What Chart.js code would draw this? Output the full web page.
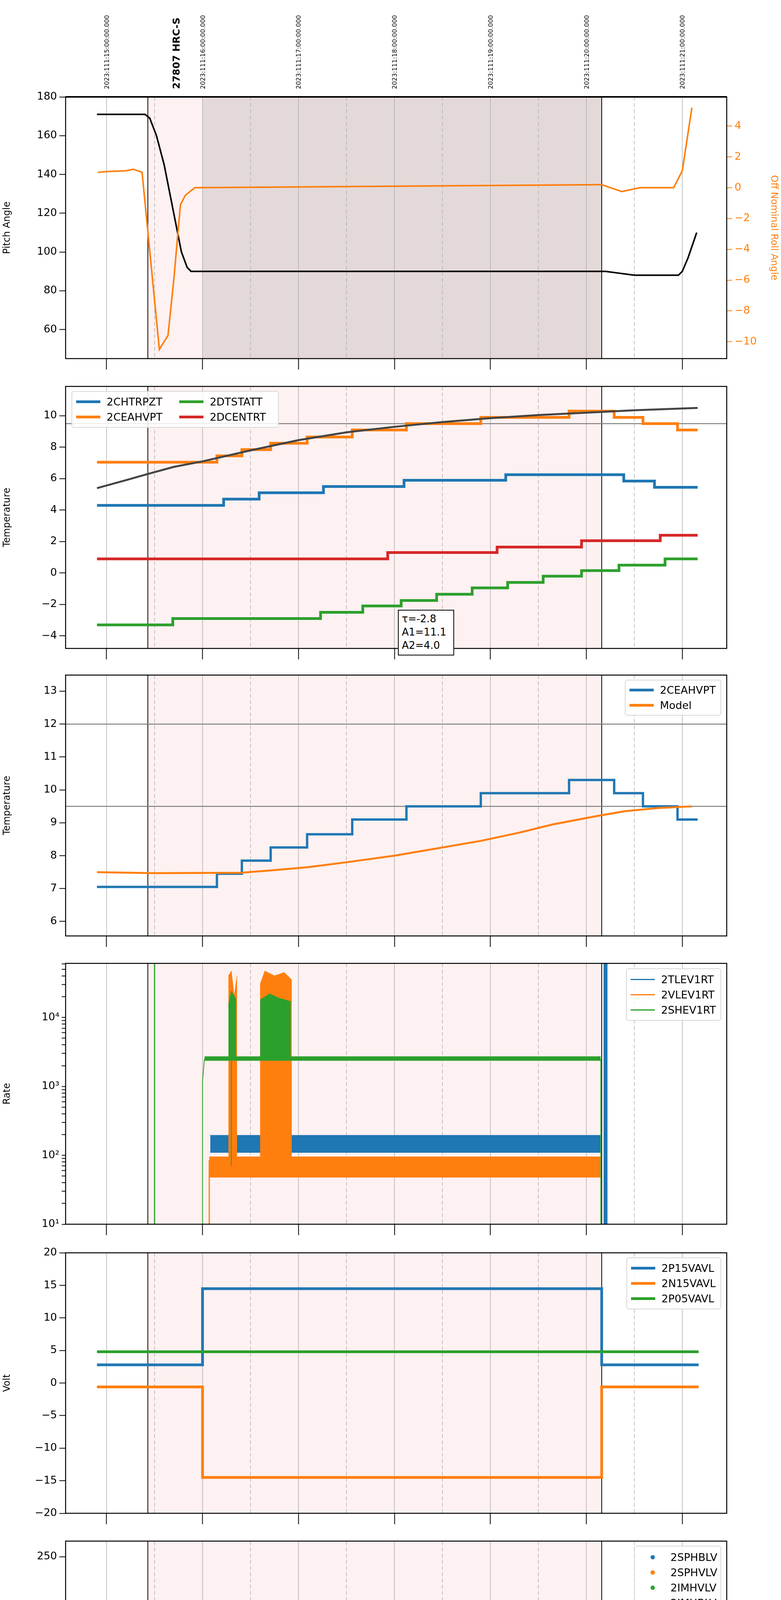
<!DOCTYPE html>
<html>
<head>
<meta charset="utf-8">
<script src="https://cdn.jsdelivr.net/npm/chart.js@4.4.0/dist/chart.umd.min.js"></script>
<style>
  body { margin: 0; background: #fff; font-family: "DejaVu Sans", sans-serif; }
  #page { position: relative; width: 2000px; height: 6200px; }
  .pane { position: absolute; left: 0; }
  .legend { position: absolute; background: rgba(255,255,255,0.85); border: 2px solid #d8d8d8; border-radius: 6px;
            box-sizing: border-box; padding: 8px 10px; display: grid; gap: 8px 22px; font-size: 27px; align-content: center; }
  .legend div { display: flex; align-items: center; white-space: nowrap; }
  .legend i { display: inline-block; width: 62px; margin-right: 16px; }
  .legend b { display: inline-block; width: 11px; height: 11px; border-radius: 50%; margin: 0 40px 0 30px; }
  .note { position: absolute; border: 2px solid #000; background: #fff; font-size: 26px; line-height: 34px; padding: 4px 8px; box-sizing: border-box; }
</style>
</head>
<body>
<div id="page"></div>
<script>
const C = { blue: '#1f77b4', orange: '#ff7f0e', green: '#2ca02c', red: '#d62728' };
const XMIN = 10.573, XMAX = 17.463;
const OBS_START = 11.43, OBS_END = 16.16;
const pts = a => a.map(p => ({ x: p[0], y: p[1] }));

// ---- data ----
const pitch = [[10.9,171],[11.4,171],[11.45,169],[11.52,160],[11.6,145],[11.7,120],[11.78,100],[11.84,92],[11.88,90],
  [16.2,90],[16.35,89],[16.5,88],[16.96,88],[17.0,90],[17.06,97],[17.15,110]];
const roll = [[10.91,1.0],[11.0,1.05],[11.2,1.1],[11.28,1.2],[11.37,1.0],[11.55,-10.5],[11.64,-9.6],[11.7,-6],[11.77,-1.1],
  [11.82,-0.5],[11.92,0.0],[16.16,0.2],[16.37,-0.25],[16.48,-0.1],[16.56,0],[16.91,0],[17.0,1.1],[17.1,5.2]];

// step series: each point is [time the value starts, value]
const ceahvpt = [[10.9,7.05],[12.15,7.45],[12.41,7.85],[12.71,8.25],[13.09,8.65],[13.56,9.1],[14.125,9.5],[14.9,9.9],
  [15.82,10.3],[16.29,9.9],[16.59,9.5],[16.95,9.1],[17.16,9.1]];
const chtrpzt = [[10.9,4.3],[12.22,4.7],[12.59,5.1],[13.26,5.5],[14.1,5.9],[15.16,6.25],[16.39,5.85],[16.71,5.45],[17.16,5.45]];
const dcentrt = [[10.9,0.9],[13.93,1.3],[15.07,1.65],[15.95,2.05],[16.77,2.4],[17.16,2.4]];
const dtstatt = [[10.9,-3.3],[11.69,-2.9],[13.23,-2.5],[13.67,-2.1],[14.07,-1.75],[14.44,-1.35],[14.81,-0.95],[15.18,-0.6],
  [15.55,-0.2],[15.95,0.15],[16.34,0.5],[16.82,0.9],[17.16,0.9]];
const fitCurve = [[10.9,5.4],[11.2,5.9],[11.43,6.3],[11.7,6.75],[12,7.1],[12.5,7.8],[13,8.45],[13.5,8.95],[14,9.3],
  [14.5,9.6],[15,9.85],[15.5,10.05],[16,10.2],[16.5,10.35],[17.16,10.5]];
const model = [[10.9,7.5],[11.5,7.47],[12.4,7.48],[12.7,7.55],[13.1,7.65],[13.5,7.8],[14,8.0],[14.4,8.2],[14.9,8.45],
  [15.3,8.7],[15.65,8.95],[16.1,9.2],[16.4,9.35],[16.75,9.45],[17.1,9.5]];

const p15 = [[10.9,2.8],[12.0,14.5],[16.16,2.8],[17.17,2.8]];
const n15 = [[10.9,-0.6],[12.0,-14.5],[16.16,-0.6],[17.17,-0.6]];
const p05 = [[10.9,4.8],[17.17,4.8]];

const sphblvPts = [[12.02,118],[12.03,103],[12.035,102],[12.04,97],[12.05,91],[12.06,87],[12.07,82],[12.08,78]];
const sphvlvPts = [[12.02,127],[12.025,126],[12.03,96],[12.04,90],[12.045,86],[12.05,85],[12.06,80],[12.07,75],[12.08,71],
  [12.28,127],[12.29,127],[12.30,127],[12.31,127],[12.58,127],[12.64,127],[12.67,127],[12.70,127],[12.73,127],
  [12.76,127],[12.79,127],[12.82,127],[12.85,127]];

const spinatm = [[12.02,3.7],[12.13,4.1],[12.27,0],[12.3,4.1],[12.6,0],[12.63,4.1],[12.65,0],[12.68,4.1],[12.7,0],[12.73,4.1],
  [12.75,0],[12.78,4.1],[12.8,0],[12.83,4.1],[12.85,0],[12.88,4.1],[14.79,4.55],[16.16,4.55]];
const sphvatm = [[12.0,0],[12.0,16.2],[12.05,16.45],[12.08,16.1],[12.12,16.4],[12.2,16.7],[12.27,10.3],[12.3,17.0],[12.37,17.3],
  [12.45,17.6],[12.52,17.9],[12.6,11.1],[12.62,18.1],[12.66,11.1],[12.68,18.1],[12.72,11.1],[12.74,18.2],[12.78,11.1],
  [12.8,18.2],[12.84,11.3],[12.86,18.5],[12.88,11.3],[12.9,18.7],[12.94,19.0],[13.1,19.3],[13.3,19.6],[13.5,19.9],
  [13.75,20.2],[14.1,20.5],[14.5,20.8],[15.1,21.1],[15.8,21.4],[16.16,21.4],[16.16,0]];
const iminatm = [[12.02,1.5],[12.08,1.9],[12.1,1.5],[12.17,1.9],[12.19,1.5],[12.27,4.2],[12.3,1.5],[12.4,1.9],[12.42,1.5],
  [12.52,1.9],[12.55,1.5],[12.6,4.2],[12.63,1.5],[12.66,4.2],[12.69,1.5],[12.72,4.2],[12.75,1.5],[12.78,4.2],[12.81,1.5],
  [12.84,4.2],[12.87,1.85],[15.14,2.35],[16.16,2.35]];
const imhvatm = [[12.0,0],[12.0,15.5],[12.08,15.8],[12.1,15.5],[12.27,17.0],[12.3,15.5],[12.4,15.8],[12.6,18.1],[12.63,15.8],
  [12.66,18.4],[12.7,15.8],[12.73,18.5],[12.77,15.8],[12.8,18.7],[12.85,16.1],[13.13,16.4],[13.5,16.7],[13.93,16.95],
  [14.47,17.2],[15.07,17.5],[15.8,17.8],[16.16,17.8],[16.16,0]];

const fhtrmzt = [[10.9,-6],[12.22,-5.6],[12.4,-5.2],[12.57,-4.8],[12.75,-4.4],[12.89,-4.0],[13.08,-3.6],[13.28,-3.25],
  [13.5,-2.9],[13.67,-2.5],[13.9,-2.1],[14.1,-1.4],[14.11,-1.75],[14.3,-1.35],[14.56,-1.0],[14.8,-0.6],[15.05,-0.25],
  [15.32,0.15],[15.58,0.5],[15.88,0.9],[16.2,1.25],[16.37,0.9],[16.61,0.5],[16.82,0.15],[17.03,-0.25],[17.17,-0.25]];
const fradpyt = [[11.48,-8.5],[11.49,-7.55],[11.64,-7.15],[11.85,-7.55],[11.96,-8.5],[12.37,-7.55],[12.56,-7.15],
  [12.76,-6.75],[12.96,-6.35],[13.18,-5.95],[13.4,-5.6],[13.6,-5.2],[13.85,-4.8],[14.1,-4.4],[14.35,-4.0],[14.6,-3.65],
  [14.93,-3.3],[15.2,-2.9],[15.5,-2.5],[15.8,-2.15],[16.17,-1.75],[16.25,-2.15],[16.48,-2.55],[16.67,-2.9],[16.88,-3.3],
  [17.1,-3.7],[17.17,-3.7]];
const fepratm = [[12.03,-5.1],[12.07,-4.6],[12.12,-4.2],[12.17,-3.8],[12.22,-3.4],[12.27,-4.65],[12.29,-3.0],[12.45,-2.6],
  [12.5,-2.2],[12.6,-4.65],[12.63,-1.8],[12.66,-4.65],[12.69,-1.8],[12.72,-4.65],[12.75,-1.5],[12.78,-4.65],[12.81,-1.4],
  [12.84,-4.65],[12.87,-1.0],[13.1,-0.6],[13.25,-0.2],[13.5,0.25],[13.7,0.65],[13.95,1.05],[14.15,1.5],[14.4,1.95],
  [14.66,2.35],[15.0,2.75],[15.3,3.25],[15.63,3.65],[15.95,4.15],[16.16,4.15]];
const fe00atm = [[12.0,-9],[12.0,-3.8],[12.1,-3.45],[12.25,-3.1],[12.27,5],[12.29,-9],[12.31,5],[12.33,-3.1],[12.38,-2.75],
  [12.5,-2.45],[12.6,5],[12.62,-2.0],[12.64,5],[12.66,-1.9],[12.68,5],[12.7,-2.4],[12.72,5],[12.74,-1.8],[12.76,5],
  [12.78,-1.8],[12.8,5],[12.82,-1.5],[12.85,-1.45],[13.0,-1.1],[13.1,-0.8],[13.25,-0.45],[13.4,-0.15],[13.55,0.15],
  [13.7,-0.2],[13.72,0.5],[13.85,1.8],[13.86,0.8],[14.0,1.1],[14.2,1.45],[14.35,1.75],[14.6,2.05],[14.8,2.35],[15.0,2.65],
  [15.2,2.95],[15.45,3.25],[15.5,2.3],[15.51,3.55],[15.9,3.85],[16.1,4.1],[16.16,-9]];

// rate panel: noisy bands kept as min/max envelopes
const rateSets = [
  { d: [[12.08,110],[16.15,110]], c: C.blue },
  { d: [[12.08,195],[16.15,195]], c: C.blue, fill: '-1' },
  { d: [[16.2,10],[16.2,70000]], c: C.blue, w: 10 },
  { d: [[12.07,10],[12.07,85]], c: C.orange, w: 3 },
  { d: [[12.07,48],[16.15,48]], c: C.orange },
  { d: [[12.07,95],[16.15,95]], c: C.orange, fill: '-1' },
  { d: [[12.27,80],[12.3,80],[12.33,80],[12.36,80]], c: C.orange },
  { d: [[12.27,40000],[12.3,47000],[12.33,20000],[12.36,40000]], c: C.orange, fill: '-1' },
  { d: [[12.6,90],[12.65,90],[12.75,90],[12.85,90],[12.93,90]], c: C.orange },
  { d: [[12.6,30000],[12.65,47000],[12.75,40000],[12.85,45000],[12.93,35000]], c: C.orange, fill: '-1' },
  { d: [[11.5,10],[11.5,70000]], c: C.green, w: 3 },
  { d: [[12.0,10],[12.0,1200],[12.02,2500]], c: C.green, w: 2 },
  { d: [[12.02,2380],[16.15,2380]], c: C.green },
  { d: [[12.02,2700],[16.15,2700]], c: C.green, fill: '-1' },
  { d: [[12.27,2500],[12.3,2500],[12.35,2500]], c: C.green },
  { d: [[12.27,15000],[12.3,24000],[12.35,18000]], c: C.green, fill: '-1' },
  { d: [[12.6,2500],[12.7,2500],[12.8,2500],[12.92,2500]], c: C.green },
  { d: [[12.6,18000],[12.7,22000],[12.8,19000],[12.92,17000]], c: C.green, fill: '-1' },
  { d: [[12.3,2500],[12.3,70]], c: C.green, w: 2 },
  { d: [[16.15,2500],[16.15,10]], c: C.green, w: 2 }
];

// ---- helpers ----
function line(d, color, w, extra) {
  return Object.assign({ data: pts(d), borderColor: color, backgroundColor: color, borderWidth: w,
    pointRadius: 0, fill: false, tension: 0 }, extra || {});
}
const stepLine = (d, color, w) => line(d, color, w, { stepped: 'before' });
const fixTicks = list => scale => { scale.ticks = list.map(v => ({ value: v })); };
const minus = v => String(v).replace('-', '\u2212');

const hourTicks = [];
for (let h = 11; h <= 17; h += 0.5) hourTicks.push(h);

const panels = [
  { top: 248, bottom: 918, ylabel: 'Pitch Angle', ymin: 45, ymax: 180, yticks: [60,80,100,120,140,160,180], dark: true,
    sets: [line(pitch, '#000', 4), line(roll, C.orange, 4, { yAxisID: 'y2' })] },
  { top: 987, bottom: 1660, ylabel: 'Temperature', ymin: -4.8, ymax: 11.87, yticks: [-4,-2,0,2,4,6,8,10], hlines: [9.5],
    sets: [stepLine(chtrpzt, C.blue, 7), stepLine(ceahvpt, C.orange, 7), stepLine(dtstatt, C.green, 7),
           stepLine(dcentrt, C.red, 7), line(fitCurve, '#444', 5)] },
  { top: 1726, bottom: 2396, ylabel: 'Temperature', ymin: 5.56, ymax: 13.49, yticks: [6,7,8,9,10,11,12,13], hlines: [12, 9.5],
    sets: [stepLine(ceahvpt, C.blue, 6), line(model, C.orange, 5)] },
  { top: 2464, bottom: 3134, ylabel: 'Rate', log: true, ymin: 10, ymax: 61000,
    sets: rateSets.map(s => line(s.d, s.c, s.w || 1.5, s.fill ? { fill: s.fill } : {})) },
  { top: 3205, bottom: 3874, ylabel: 'Volt', ymin: -20, ymax: 20, yticks: [-20,-15,-10,-5,0,5,10,15,20],
    sets: [stepLine(p15, C.blue, 7), stepLine(n15, C.orange, 7), line(p05, C.green, 7)] },
  { top: 3943, bottom: 4613, ylabel: 'HV Monitor', ymin: 0, ymax: 266, yticks: [0,50,100,150,200,250],
    sets: [line([[12.08,77.5],[16.16,77.5]], C.blue, 11),
           line(sphblvPts, C.blue, 0, { showLine: false, pointRadius: 5 }),
           line([[12.08,70.5],[16.16,70.5]], C.orange, 9),
           line(sphvlvPts, C.orange, 0, { showLine: false, pointRadius: 5 })] },
  { top: 4682, bottom: 5352, ylabel: 'Detector Temp', ymin: 0.45, ymax: 22.43, yticks: [2.5,5,7.5,10,12.5,15,17.5,20], dec: 1,
    sets: [stepLine(spinatm, C.blue, 7), stepLine(sphvatm, C.orange, 7), stepLine(iminatm, C.green, 7), stepLine(imhvatm, C.red, 7)] },
  { top: 5420, bottom: 6090, ylabel: 'FEA Temp', ymin: -7.9, ymax: 4.31, yticks: [-6,-4,-2,0,2,4], last: true,
    sets: [stepLine(fhtrmzt, C.blue, 7), stepLine(fradpyt, C.orange, 7), stepLine(fepratm, C.green, 7), stepLine(fe00atm, C.red, 7)] }
];

const backdrop = {
  id: 'backdrop',
  beforeDatasetsDraw(chart, args, opts) {
    const { ctx, chartArea: a, scales: { x, y } } = chart;
    const px = v => x.getPixelForValue(v);
    ctx.save();
    ctx.beginPath(); ctx.rect(a.left, a.top, a.right - a.left, a.bottom - a.top); ctx.clip();
    ctx.fillStyle = '#fdf1f1';
    ctx.fillRect(px(OBS_START), a.top, px(OBS_END) - px(OBS_START), a.bottom - a.top);
    if (opts.dark) {
      ctx.fillStyle = '#e4d9d9';
      ctx.fillRect(px(12), a.top, px(OBS_END) - px(12), a.bottom - a.top);
    }
    ctx.lineWidth = 1.5;
    hourTicks.forEach(h => {
      ctx.strokeStyle = '#b0b0b0';
      ctx.setLineDash(h % 1 ? [10, 6] : []);
      ctx.beginPath(); ctx.moveTo(px(h), a.top); ctx.lineTo(px(h), a.bottom); ctx.stroke();
    });
    ctx.setLineDash([]);
    ctx.strokeStyle = '#000'; ctx.lineWidth = 2;
    [OBS_START, OBS_END].forEach(h => {
      ctx.beginPath(); ctx.moveTo(px(h), a.top); ctx.lineTo(px(h), a.bottom); ctx.stroke();
    });
    ctx.strokeStyle = '#808080'; ctx.lineWidth = 2.5;
    (opts.hlines || []).forEach(v => {
      const py = y.getPixelForValue(v);
      ctx.beginPath(); ctx.moveTo(a.left, py); ctx.lineTo(a.right, py); ctx.stroke();
    });
    ctx.restore();
  },
  afterDraw(chart, args, opts) {
    const { ctx, chartArea: a, scales: { x } } = chart;
    ctx.save();
    ctx.strokeStyle = '#000'; ctx.lineWidth = 2.5;
    ctx.strokeRect(a.left, a.top, a.right - a.left, a.bottom - a.top);
    if (opts.dark) {
      ctx.lineWidth = 4;
      ctx.beginPath(); ctx.moveTo(a.left, a.top); ctx.lineTo(a.right, a.top); ctx.stroke();
      ctx.fillStyle = '#000';
      ctx.font = '16px "DejaVu Sans"';
      for (let h = 11; h <= 17; h++) {
        ctx.save();
        ctx.translate(x.getPixelForValue(h) + 6, a.top - 20);
        ctx.rotate(-Math.PI / 2);
        ctx.fillText('2023:111:' + (h + 4) + ':00:00.000', 0, 0);
        ctx.restore();
      }
      ctx.save();
      ctx.font = 'bold 25px "DejaVu Sans"';
      ctx.translate(x.getPixelForValue(11.72) + 10, a.top - 20);
      ctx.rotate(-Math.PI / 2);
      ctx.fillText('27807 HRC-S', 0, 0);
      ctx.restore();
    }
    ctx.restore();
  }
};

const page = document.getElementById('page');
panels.forEach((p, i) => {
  const cTop = i === 0 ? 0 : p.top - 20;
  const cBottom = p.last ? 6200 : p.bottom + 50;
  const div = document.createElement('div');
  div.className = 'pane';
  div.style.top = cTop + 'px';
  const cv = document.createElement('canvas');
  cv.width = 2000; cv.height = cBottom - cTop;
  div.appendChild(cv); page.appendChild(div);

  const yTicks = p.log
    ? [10,20,30,40,50,60,70,80,90,100,200,300,400,500,600,700,800,900,1000,2000,3000,4000,5000,6000,7000,8000,9000,10000,20000,30000,40000,50000,60000]
    : p.yticks;
  const sup = { 10: '10\u00b9', 100: '10\u00b2', 1000: '10\u00b3', 10000: '10\u2074' };
  const scales = {
    x: {
      type: 'linear', min: XMIN, max: XMAX,
      afterBuildTicks: fixTicks(hourTicks),
      afterFit: s => { s.height = cBottom - p.bottom; },
      border: { display: false },
      grid: { drawOnChartArea: false, tickLength: p.last ? 22 : 28, tickWidth: 2,
              tickColor: c => (c.tick && c.tick.value % 1) ? (p.last ? '#000' : 'rgba(0,0,0,0)') : '#000' },
      ticks: { display: !!p.last, color: '#000', maxRotation: 0, autoSkip: false, padding: 4,
               callback: v => v % 1 ? '30' : v + 'h',
               font: c => ({ family: 'DejaVu Sans', size: (c.tick && c.tick.value % 1) ? 17 : 30 }) },
      title: { display: !!p.last, text: '2023-04-21 (111)', color: '#000', font: { family: 'DejaVu Sans', size: 30 }, padding: 0 }
    },
    y: {
      type: p.log ? 'logarithmic' : 'linear', position: 'left', min: p.ymin, max: p.ymax,
      afterBuildTicks: fixTicks(yTicks),
      afterFit: s => { s.width = 168; },
      border: { display: false },
      grid: { drawOnChartArea: false, tickWidth: 2, tickColor: '#000',
              tickLength: p.log ? 10 : 16 },
      ticks: { color: '#000', padding: 6, autoSkip: false, font: { family: 'DejaVu Sans', size: 27 },
               callback: v => p.log ? (sup[v] || '') : (p.dec ? minus(v.toFixed(1)) : minus(v)) },
      title: { display: true, text: p.ylabel, color: '#000', font: { family: 'DejaVu Sans', size: 24 }, padding: 4 }
    }
  };
  if (i === 0) {
    scales.y2 = {
      type: 'linear', position: 'right', min: -11.1, max: 5.9,
      afterBuildTicks: fixTicks([-10,-8,-6,-4,-2,0,2,4]),
      afterFit: s => { s.width = 139; },
      border: { display: false },
      grid: { drawOnChartArea: false, tickWidth: 2, tickColor: C.orange, tickLength: 14 },
      ticks: { color: C.orange, padding: 6, font: { family: 'DejaVu Sans', size: 27 }, callback: v => minus(v) },
      title: { display: true, text: 'Off Nominal Roll Angle', color: C.orange, font: { family: 'DejaVu Sans', size: 24 } }
    };
  }
  p.sets.forEach((s, k) => { s.order = -k; });

  new Chart(cv, {
    type: 'line',
    data: { datasets: p.sets },
    options: {
      responsive: false, animation: false, devicePixelRatio: 1,
      layout: { padding: { top: p.top - cTop, right: i === 0 ? 0 : 139, left: 0, bottom: 0 } },
      scales,
      plugins: { legend: { display: false }, tooltip: { enabled: false },
                 backdrop: { dark: !!p.dark, hlines: p.hlines } }
    },
    plugins: [backdrop]
  });
});

// legends
function legend(x, y, w, h, items, cols, dots) {
  const el = document.createElement('div');
  el.className = 'legend';
  Object.assign(el.style, { left: x + 'px', top: y + 'px', width: w + 'px', height: h + 'px',
    gridTemplateColumns: 'repeat(' + cols + ', auto)', gridAutoFlow: cols > 1 ? 'column' : 'row',
    gridTemplateRows: cols > 1 ? 'repeat(2, auto)' : '' });
  items.forEach(([t, c, lw]) => {
    const it = document.createElement('div');
    it.innerHTML = dots ? '<b style="background:' + c + '"></b>' + t
                        : '<i style="border-top:' + (lw || 7) + 'px solid ' + c + '"></i>' + t;
    el.appendChild(it);
  });
  page.appendChild(el);
}
legend(183, 1001, 531, 94, [['2CHTRPZT', C.blue], ['2CEAHVPT', C.orange], ['2DTSTATT', C.green], ['2DCENTRT', C.red]], 2);
legend(1600, 1740, 247, 92, [['2CEAHVPT', C.blue], ['Model', C.orange]], 1);
legend(1603, 2479, 244, 134, [['2TLEV1RT', C.blue, 3], ['2VLEV1RT', C.orange, 3], ['2SHEV1RT', C.green, 3]], 1);
legend(1604, 3219, 243, 133, [['2P15VAVL', C.blue], ['2N15VAVL', C.orange], ['2P05VAVL', C.green]], 1);
legend(1624, 3957, 223, 176, [['2SPHBLV', C.blue], ['2SPHVLV', C.orange], ['2IMHVLV', C.green], ['2IMHBLV', C.red]], 1, true);
legend(1600, 4695, 247, 176, [['2SPINATM', C.blue], ['2SPHVATM', C.orange], ['2IMINATM', C.green], ['2IMHVATM', C.red]], 1);
legend(1597, 5901, 250, 176, [['2FHTRMZT', C.blue], ['2FRADPYT', C.orange], ['2FEPRATM', C.green], ['2FE00ATM', C.red]], 1);

const note = document.createElement('div');
note.className = 'note';
Object.assign(note.style, { left: '1019px', top: '1561px', width: '144px', height: '117px' });
note.innerHTML = '\u03c4=-2.8<br>A1=11.1<br>A2=4.0';
page.appendChild(note);
</script>
</body>
</html>
